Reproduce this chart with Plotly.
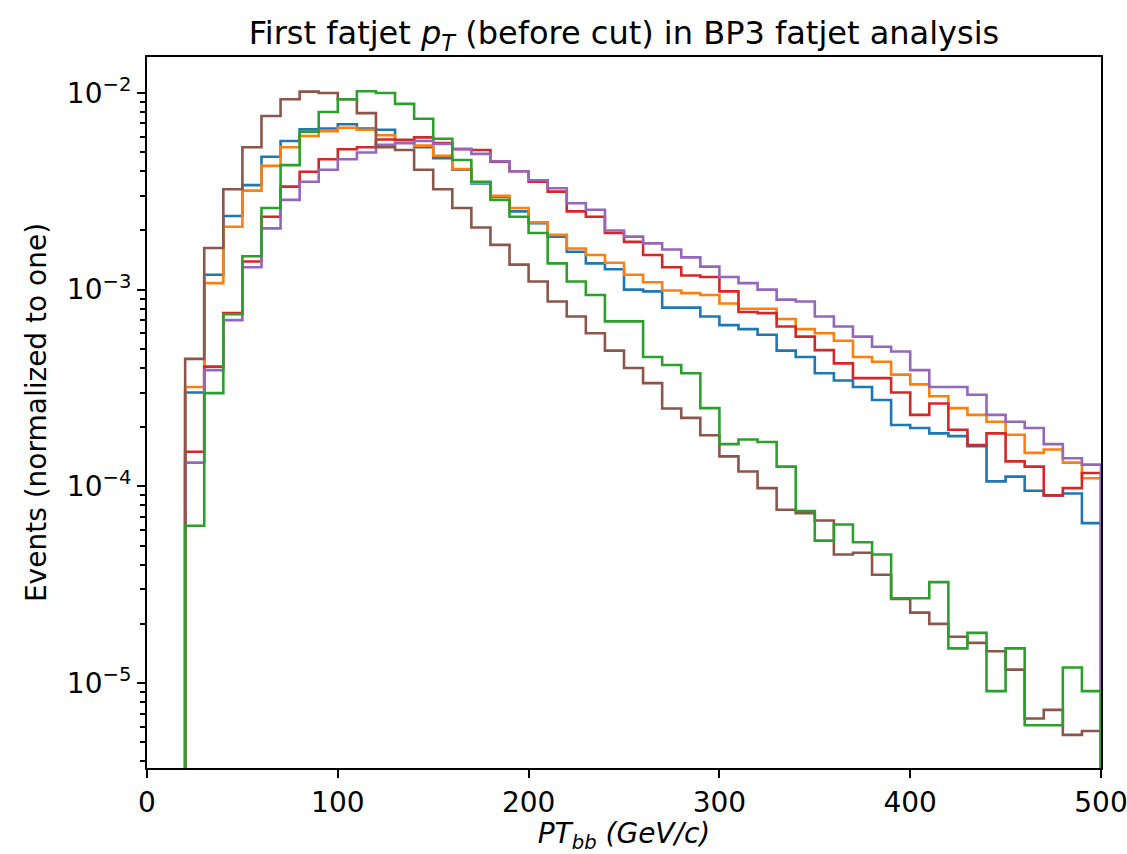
import plotly.graph_objects as go

# Bin edges (GeV/c): 48 bins of width 10 from 20 to 500
bin_edges = list(range(20, 510, 10))

blue = [3.0e-4, 1.19e-3, 2.37e-3, 3.4e-3, 4.74e-3, 5.7e-3, 6.53e-3, 6.6e-3, 6.93e-3, 6.6e-3,
        6.5e-3, 5.77e-3, 5.3e-3, 4.66e-3, 4.07e-3, 3.47e-3, 2.97e-3, 2.5e-3, 2.18e-3, 1.86e-3,
        1.56e-3, 1.36e-3, 1.27e-3, 1.0e-3, 9.8e-4, 8.1e-4, 8.1e-4, 7.3e-4, 6.6e-4, 6.3e-4,
        5.9e-4, 4.9e-4, 4.55e-4, 3.76e-4, 3.45e-4, 3.2e-4, 2.75e-4, 2.05e-4, 1.98e-4, 1.86e-4,
        1.8e-4, 1.6e-4, 1.06e-4, 1.12e-4, 9.5e-5, 9.0e-5, 9.2e-5, 6.5e-5]

orange = [3.2e-4, 1.08e-3, 2.09e-3, 3.19e-3, 4.26e-3, 5.3e-3, 6.04e-3, 6.4e-3, 6.66e-3, 6.5e-3,
          6.1e-3, 5.77e-3, 5.4e-3, 4.8e-3, 4.1e-3, 3.5e-3, 3.0e-3, 2.6e-3, 2.2e-3, 1.9e-3,
          1.62e-3, 1.5e-3, 1.37e-3, 1.19e-3, 1.09e-3, 9.9e-4, 9.6e-4, 9.4e-4, 8.5e-4, 8.0e-4,
          8.0e-4, 7.1e-4, 6.3e-4, 6.0e-4, 5.5e-4, 4.55e-4, 4.3e-4, 3.7e-4, 3.3e-4, 2.87e-4,
          2.5e-4, 2.31e-4, 2.13e-4, 1.83e-4, 1.48e-4, 1.54e-4, 1.32e-4, 1.1e-4]

red = [1.5e-4, 4.06e-4, 7.6e-4, 1.39e-3, 2.35e-3, 3.34e-3, 3.98e-3, 4.6e-3, 5.18e-3, 5.3e-3,
       5.8e-3, 5.77e-3, 5.95e-3, 5.56e-3, 5.18e-3, 5.13e-3, 4.48e-3, 4.0e-3, 3.54e-3, 3.15e-3,
       2.5e-3, 2.35e-3, 1.94e-3, 1.75e-3, 1.5e-3, 1.3e-3, 1.18e-3, 1.16e-3, 9.8e-4, 7.7e-4,
       7.6e-4, 6.5e-4, 5.77e-4, 4.93e-4, 4.22e-4, 3.55e-4, 3.55e-4, 3.0e-4, 2.31e-4, 2.64e-4,
       1.94e-4, 1.62e-4, 1.86e-4, 1.34e-4, 1.26e-4, 9.0e-5, 9.8e-5, 1.17e-4]

purple = [1.32e-4, 3.9e-4, 7.0e-4, 1.3e-3, 2.05e-3, 2.86e-3, 3.54e-3, 4.07e-3, 4.6e-3, 4.98e-3,
          5.45e-3, 5.55e-3, 5.7e-3, 5.5e-3, 5.2e-3, 4.9e-3, 4.5e-3, 4.0e-3, 3.6e-3, 3.28e-3,
          2.75e-3, 2.55e-3, 2.0e-3, 1.86e-3, 1.72e-3, 1.6e-3, 1.46e-3, 1.31e-3, 1.16e-3, 1.08e-3,
          1.0e-3, 8.9e-4, 8.7e-4, 7.3e-4, 6.5e-4, 5.77e-4, 5.13e-4, 4.85e-4, 3.9e-4, 3.2e-4,
          3.2e-4, 2.92e-4, 2.31e-4, 2.13e-4, 1.98e-4, 1.64e-4, 1.39e-4, 1.29e-4]

brown = [4.45e-4, 1.63e-3, 3.24e-3, 5.3e-3, 7.64e-3, 9.3e-3, 1.016e-2, 1.0e-2, 9.3e-3, 7.9e-3,
         5.3e-3, 5.13e-3, 4.07e-3, 3.24e-3, 2.6e-3, 2.07e-3, 1.69e-3, 1.34e-3, 1.1e-3, 8.7e-4,
         7.3e-4, 6.0e-4, 4.9e-4, 4.0e-4, 3.35e-4, 2.49e-4, 2.23e-4, 1.82e-4, 1.42e-4, 1.19e-4,
         9.8e-5, 7.6e-5, 7.3e-5, 6.7e-5, 4.5e-5, 4.6e-5, 3.55e-5, 2.68e-5, 2.28e-5, 2.0e-5,
         1.72e-5, 1.6e-5, 1.45e-5, 1.17e-5, 6.6e-6, 7.3e-6, 5.45e-6, 5.7e-6]

green = [6.3e-5, 2.98e-4, 7.5e-4, 1.48e-3, 2.6e-3, 4.3e-3, 6.35e-3, 8.0e-3, 9.3e-3, 1.02e-2,
         1.0e-2, 8.8e-3, 7.4e-3, 5.85e-3, 4.56e-3, 3.54e-3, 2.86e-3, 2.35e-3, 1.94e-3, 1.36e-3,
         1.1e-3, 9.4e-4, 6.9e-4, 6.9e-4, 4.55e-4, 4.14e-4, 3.76e-4, 2.5e-4, 1.64e-4, 1.73e-4,
         1.68e-4, 1.26e-4, 7.5e-5, 5.3e-5, 6.4e-5, 5.2e-5, 4.5e-5, 2.7e-5, 2.7e-5, 3.26e-5,
         1.5e-5, 1.8e-5, 9.1e-6, 1.5e-5, 6.1e-6, 6.1e-6, 1.2e-5, 9.1e-6]

x_ticks = [0, 100, 200, 300, 400, 500]
y_ticks = [1e-5, 1e-4, 1e-3, 1e-2]
y_ticktext = ["10<sup>\u22125</sup>", "10<sup>\u22124</sup>", "10<sup>\u22123</sup>", "10<sup>\u22122</sup>"]

series = [
    ("blue", blue, "#1f77b4"),
    ("orange", orange, "#ff7f0e"),
    ("red", red, "#d62728"),
    ("purple", purple, "#9467bd"),
    ("brown", brown, "#8c564b"),
    ("green", green, "#2ca02c"),
]

baseline = 1e-8  # histogram outline drops to zero (off the log axis)

fig = go.Figure()
for name, vals, color in series:
    xs = [bin_edges[0]] + bin_edges + [bin_edges[-1]]
    ys = [baseline] + list(vals) + [vals[-1], baseline]
    fig.add_trace(go.Scatter(
        x=xs, y=ys, mode="lines", name=name,
        line=dict(color=color, width=2.6, shape="hv"),
        showlegend=False, hoverinfo="skip",
    ))

minor_vals = []
for e in range(-6, -1):
    for m in range(2, 10):
        minor_vals.append(m * 10.0 ** e)

font_family = "DejaVu Sans"

fig.update_layout(
    width=1127, height=854,
    margin=dict(l=147, r=26, t=57, b=86),
    paper_bgcolor="white", plot_bgcolor="white",
    font=dict(family=font_family, color="black", size=28),
    title=dict(
        text="First fatjet <i>p</i><sub><i>T</i></sub> (before cut) in BP3 fatjet analysis",
        x=0.5, xref="paper", xanchor="center",
        y=1 - 33 / 854, yref="container", yanchor="middle",
        font=dict(family=font_family, size=32, color="black"),
    ),
)

fig.update_xaxes(
    range=[0, 500], tickvals=x_ticks,
    showgrid=False, zeroline=False, automargin=False,
    ticklabeloverflow="allow",
    showline=True, mirror=True, linecolor="black", linewidth=2,
    ticks="outside", ticklen=8, tickwidth=2, tickcolor="black",
    tickfont=dict(size=28, family=font_family),
    title=dict(text="<i>PT<sub>bb</sub> (GeV/c)</i>", standoff=4,
               font=dict(size=28, family=font_family)),
)

fig.update_yaxes(
    type="log", range=[-5.432, -1.817],
    tickvals=y_ticks, ticktext=y_ticktext,
    showgrid=False, zeroline=False, automargin=False,
    ticklabeloverflow="allow",
    showline=True, mirror=True, linecolor="black", linewidth=2,
    ticks="outside", ticklen=8, tickwidth=2, tickcolor="black",
    tickfont=dict(size=28, family=font_family),
    minor=dict(tickvals=minor_vals, ticks="outside", ticklen=5, tickwidth=1.5,
               tickcolor="black", showgrid=False),
    title=dict(text="Events (normalized to one)", standoff=12,
               font=dict(size=28, family=font_family)),
)

fig.write_html("out.html")
